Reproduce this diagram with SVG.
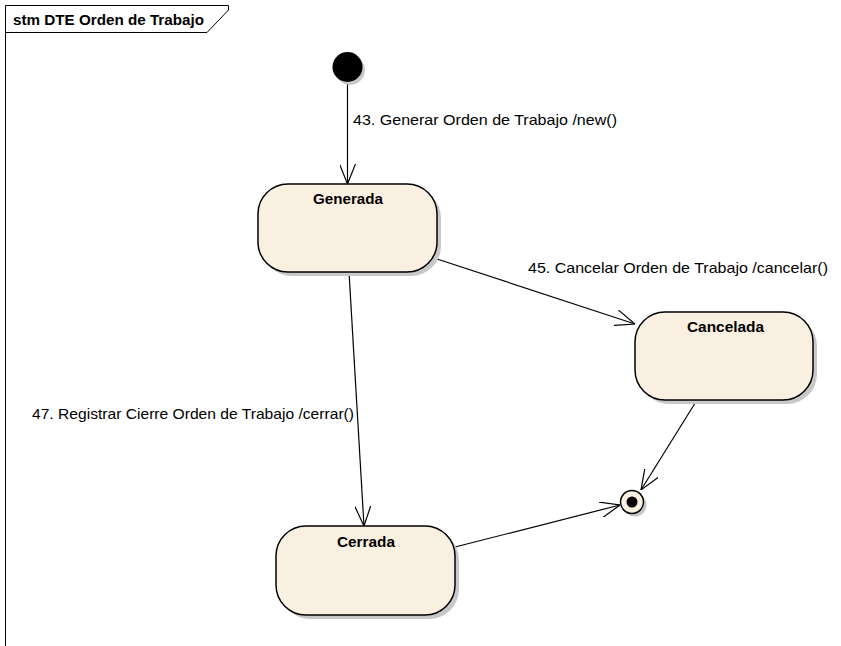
<svg xmlns="http://www.w3.org/2000/svg" width="841" height="646" viewBox="0 0 841 646">
<style>
.frame{fill:none;stroke:#000;stroke-width:1}
.state{fill:#FAF0E2;stroke:#000;stroke-width:1.5}
.shadow{fill:#C8C8C8}
.name{font-family:"Liberation Sans",Arial,sans-serif;font-size:14px;font-weight:bold;fill:#000}
.lbl{font-family:"Liberation Sans",Arial,sans-serif;font-size:14.5px;fill:#000}
.title{font-family:"Liberation Sans",Arial,sans-serif;font-size:14px;font-weight:bold;fill:#000}
.edge{fill:none;stroke:#000;stroke-width:1.2}
</style>
<defs>
<marker id="open" viewBox="0 0 20 16" refX="20" refY="8" markerWidth="20" markerHeight="16" markerUnits="userSpaceOnUse" orient="auto">
<path d="M0,0 L20,8 L0,16" fill="none" stroke="#000" stroke-width="1.2"/>
</marker>
</defs>
<rect width="841" height="646" fill="#fff"/>
<g id="frame">
<path class="frame" d="M5.5,646 V5.5 H228.5 V10 L207,32.5 H5.5"/>
<text class="title" x="13" y="25" textLength="191" lengthAdjust="spacingAndGlyphs">stm DTE Orden de Trabajo</text>
</g>
<g id="connectors">
<line class="edge" x1="347.5" y1="82" x2="347.5" y2="184" marker-end="url(#open)"/>
<text class="lbl" x="353" y="125" textLength="264" lengthAdjust="spacingAndGlyphs">43. Generar Orden de Trabajo /new()</text>
<line class="edge" x1="437" y1="259" x2="635" y2="324" marker-end="url(#open)"/>
<text class="lbl" x="528" y="273" textLength="300" lengthAdjust="spacingAndGlyphs">45. Cancelar Orden de Trabajo /cancelar()</text>
<line class="edge" x1="349" y1="272" x2="364" y2="526" marker-end="url(#open)"/>
<text class="lbl" x="32" y="419" textLength="322" lengthAdjust="spacingAndGlyphs">47. Registrar Cierre Orden de Trabajo /cerrar()</text>
<line class="edge" x1="697" y1="400" x2="641" y2="490" marker-end="url(#open)"/>
<line class="edge" x1="455" y1="547" x2="620" y2="505" marker-end="url(#open)"/>
</g>
<g id="initial">
<circle cx="350" cy="70" r="15" class="shadow"/>
<circle cx="347.5" cy="67" r="15" fill="#000"/>
</g>
<g id="generada">
<rect class="shadow" x="262" y="188" width="179" height="88" rx="30"/>
<rect class="state" x="258" y="184" width="179" height="88" rx="30"/>
<text class="name" x="313" y="203.5" textLength="70" lengthAdjust="spacingAndGlyphs">Generada</text>
</g>
<g id="cancelada">
<rect class="shadow" x="639" y="316" width="178" height="88" rx="30"/>
<rect class="state" x="635" y="312" width="178" height="88" rx="30"/>
<text class="name" x="687" y="332" textLength="77" lengthAdjust="spacingAndGlyphs">Cancelada</text>
</g>
<g id="cerrada">
<rect class="shadow" x="280" y="530" width="179" height="89" rx="30"/>
<rect class="state" x="276" y="526" width="179" height="89" rx="30"/>
<text class="name" x="337" y="547" textLength="58" lengthAdjust="spacingAndGlyphs">Cerrada</text>
</g>
<g id="final">
<circle class="shadow" cx="635" cy="505" r="11.5"/>
<circle cx="632" cy="502" r="11.5" fill="#FAF0E2" stroke="#000" stroke-width="1.5"/>
<circle cx="632" cy="502" r="5.5" fill="#000"/>
</g>
</svg>
